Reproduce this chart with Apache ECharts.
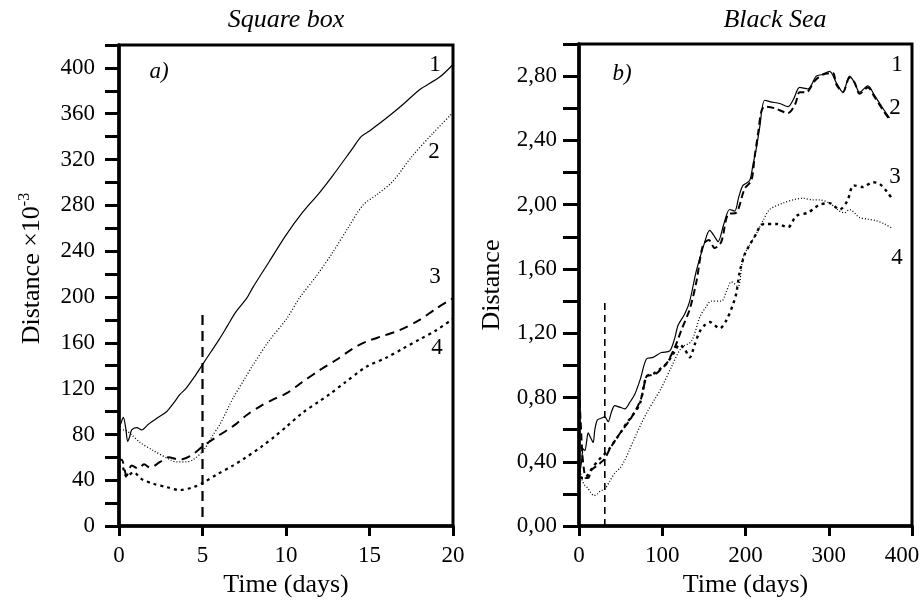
<!DOCTYPE html>
<html>
<head>
<meta charset="utf-8">
<script src="https://cdn.jsdelivr.net/npm/echarts@6/dist/echarts.min.js"></script>
<style>
  html, body { margin: 0; padding: 0; background: #fff; }
  #chart { width: 923px; height: 603px; }
</style>
</head>
<body>
<div id="chart"></div>
<script>
const serif = '"Liberation Serif", "DejaVu Serif", serif'

// a) Square box: [time (days), distance x 10^-3]
const box1 = [[0, 60], [0.02, 86], [0.12, 90], [0.26, 95], [0.4, 86], [0.52, 74], [0.64, 78], [0.76, 84], [1.06, 86], [1.36, 84],
  [1.76, 89], [2.36, 95], [2.86, 100], [3.3, 108], [3.65, 115], [4, 120], [4.5, 130], [5, 141], [5.5, 152], [6, 163],
  [6.5, 175], [7, 187], [7.65, 199], [8, 208], [9, 231], [10, 254], [11, 274], [12, 291], [12.8, 306], [14, 330],
  [14.5, 340], [15, 345], [16, 356], [17, 368], [18, 381], [19.2, 392], [20, 403]]
const box2 = [[0, 40], [0.02, 84], [0.3, 84], [0.8, 79], [1.26, 73], [2.05, 66], [3.05, 58], [3.45, 56], [4, 56], [4.45, 58],
  [5.05, 66], [5.65, 80], [6.05, 89], [6.84, 112], [7.5, 128], [8.04, 141], [9, 162], [10.04, 181], [10.8, 199], [11.8, 218],
  [12.8, 239], [13.7, 260], [14.6, 280], [15.5, 290], [16.4, 301], [17.5, 322], [18.8, 343], [20, 361]]
const box3 = [[0, 30], [0.02, 58], [0.16, 58], [0.46, 44], [0.76, 53], [1.16, 50], [1.5, 54], [1.86, 51], [2.46, 56], [2.95, 60],
  [3.65, 58], [4.25, 61], [5.05, 70], [5.75, 77], [6.5, 84], [7, 89], [7.65, 97], [8.5, 105], [9.3, 111], [10.04, 116],
  [11, 126], [12, 136], [13, 145], [14, 155], [14.8, 161], [15.8, 166], [16.8, 171], [18, 180], [19, 190], [20, 199]]
const box4 = [[0, 20], [0.02, 52], [0.16, 53], [0.46, 43], [0.86, 47], [1.36, 41], [2.05, 37], [2.86, 34], [3.65, 31.5], [4.45, 34],
  [5.05, 38], [5.85, 45], [6.84, 53], [7.5, 59], [8.5, 69], [9.3, 78], [10.04, 87], [11, 99], [12, 109], [12.6, 115],
  [13.5, 125], [14.8, 139], [16, 147], [17, 155], [18, 163], [19, 171], [20, 181]]
const boxMark = [[5, 8], [5, 186]]

// b) Black Sea: [time (days), distance]
const sea1 = [[0, 0.30], [3, 0.40], [5, 0.48], [7, 0.47], [9, 0.52], [11, 0.58], [14, 0.55], [17, 0.52], [19, 0.60], [22, 0.66],
  [26, 0.67], [31, 0.68], [35, 0.65], [39, 0.71], [43, 0.75], [49, 0.74], [55, 0.73], [61, 0.77], [67, 0.82], [74, 0.92],
  [81, 1.04], [89, 1.05], [99, 1.08], [109, 1.09], [115, 1.17], [119, 1.25], [127, 1.32], [133, 1.40], [141, 1.59], [150, 1.75],
  [157, 1.84], [163, 1.80], [167, 1.77], [174, 1.88], [181, 1.97], [187, 1.96], [192, 2.05], [197, 2.12], [205, 2.15], [209, 2.25],
  [213, 2.35], [217, 2.48], [223, 2.65], [230, 2.64], [241, 2.63], [251, 2.61], [258, 2.66], [265, 2.73], [275, 2.72], [285, 2.80],
  [292, 2.81], [301, 2.83], [309, 2.76], [317, 2.70], [325, 2.80], [331, 2.76], [337, 2.70], [347, 2.74], [355, 2.68], [365, 2.60],
  [373, 2.54]]
const sea2 = [[0, 0.85], [2, 0.65], [4, 0.45], [6, 0.35], [8, 0.30], [11, 0.30], [15, 0.35], [20, 0.37], [25, 0.39], [31, 0.42],
  [37, 0.48], [43, 0.53], [51, 0.59], [61, 0.66], [68, 0.72], [75, 0.80], [81, 0.93], [87, 0.94], [93, 0.95], [99, 0.98],
  [105, 1.01], [115, 1.11], [123, 1.22], [133, 1.35], [141, 1.52], [149, 1.75], [156, 1.78], [163, 1.73], [171, 1.77], [179, 1.94],
  [189, 1.95], [199, 2.10], [207, 2.15], [211, 2.30], [215, 2.44], [219, 2.58], [223, 2.61], [235, 2.60], [251, 2.57], [260, 2.63],
  [265, 2.70], [273, 2.70], [283, 2.77], [293, 2.81], [305, 2.82], [309, 2.75], [317, 2.70], [325, 2.79], [331, 2.76], [337, 2.69],
  [347, 2.73], [355, 2.67], [365, 2.59], [373, 2.53]]
const sea3 = [[0, 0.35], [3, 0.30], [7, 0.30], [12, 0.33], [17, 0.37], [22, 0.40], [27, 0.43], [35, 0.47], [43, 0.53], [51, 0.59],
  [57, 0.64], [63, 0.68], [73, 0.76], [81, 0.93], [90, 0.95], [98, 0.98], [105, 1.01], [113, 1.07], [121, 1.13], [127, 1.10],
  [133, 1.05], [139, 1.13], [145, 1.21], [151, 1.25], [157, 1.27], [163, 1.25], [169, 1.23], [177, 1.28], [185, 1.38], [189, 1.45],
  [193, 1.58], [199, 1.69], [205, 1.75], [213, 1.82], [218, 1.87], [223, 1.88], [237, 1.88], [251, 1.86], [261, 1.93], [275, 1.95],
  [283, 1.98], [289, 2.00], [301, 2.01], [313, 1.97], [322, 2.02], [330, 2.12], [341, 2.11], [353, 2.14], [361, 2.13], [370, 2.08],
  [377, 2.03]]
const sea4 = [[0, 0.0], [1.5, 0.35], [3, 0.30], [6, 0.26], [10, 0.24], [14, 0.21], [18, 0.19], [22, 0.20], [26, 0.22], [31, 0.23],
  [37, 0.28], [43, 0.33], [49, 0.36], [55, 0.41], [61, 0.48], [67, 0.55], [75, 0.64], [83, 0.72], [91, 0.79], [99, 0.86],
  [111, 0.99], [123, 1.11], [135, 1.15], [145, 1.30], [152, 1.36], [159, 1.40], [171, 1.40], [177, 1.46], [183, 1.52], [191, 1.49],
  [197, 1.67], [205, 1.75], [213, 1.82], [221, 1.90], [229, 1.97], [245, 2.01], [257, 2.03], [269, 2.04], [281, 2.03], [289, 2.03],
  [301, 2.01], [313, 1.96], [319, 1.95], [325, 1.97], [337, 1.92], [347, 1.91], [357, 1.90], [367, 1.88], [377, 1.85]]
const seaMark = [[31, 0], [31, 1.40]]

const titles = ['Square box', 'Black Sea']

const chart = echarts.init(document.getElementById('chart'))

const txt = (x, y, text, italic, size) => ({
  type: 'text', x, y,
  style: {
    text, fill: '#000', font: (italic ? 'italic ' : '') + (size || 23) + 'px ' + serif,
    align: 'center', verticalAlign: 'middle'
  }
})

const line = (name, data, grid, width, type, smooth) => ({
  name, type: 'line', data, xAxisIndex: grid, yAxisIndex: grid,
  showSymbol: false, smooth: smooth === undefined ? 0.3 : smooth, silent: true,
  lineStyle: { color: '#000', width, type }
})

const axisBase = {
  axisLine: { show: true, onZero: false, lineStyle: { color: '#000', width: 3.5 } },
  axisTick: { show: true, inside: false, lineStyle: { color: '#000', width: 3 } },
  splitLine: { show: false },
  axisLabel: { color: '#000', fontFamily: serif, fontSize: 23 },
  nameTextStyle: { color: '#000', fontFamily: serif, fontSize: 26 }
}

const option = {
  backgroundColor: '#fff',
  animation: false,
  grid: [
    { left: 119, right: 470, top: 45, bottom: 74, show: true, borderColor: '#000', borderWidth: 3 },
    { left: 579, right: 11, top: 44, bottom: 74, show: true, borderColor: '#000', borderWidth: 3 }
  ],
  xAxis: [
    Object.assign({}, axisBase, {
      type: 'value', gridIndex: 0, min: 0, max: 20, interval: 5,
      name: 'Time (days)', nameLocation: 'middle', nameGap: 44,
      axisTick: Object.assign({}, axisBase.axisTick, { length: 10 }),
      axisLabel: Object.assign({}, axisBase.axisLabel, { margin: 18 })
    }),
    Object.assign({}, axisBase, {
      type: 'value', gridIndex: 1, min: 0, max: 400, interval: 100,
      name: 'Time (days)', nameLocation: 'middle', nameGap: 44,
      axisTick: Object.assign({}, axisBase.axisTick, { length: 10 }),
      axisLabel: Object.assign({}, axisBase.axisLabel, {
        margin: 18,
        formatter: v => v === 400 ? '{r|400}' : String(v),
        rich: { r: { fontFamily: serif, fontSize: 23, color: '#000', padding: [0, 20, 0, 0] } }
      })
    })
  ],
  yAxis: [
    Object.assign({}, axisBase, {
      type: 'value', gridIndex: 0, min: 0, max: 420, interval: 20,
      name: 'Distance ×10{sup|-3}', nameLocation: 'middle', nameGap: 72,
      nameTextStyle: Object.assign({}, axisBase.nameTextStyle, {
        padding: [0, 0, 0, 34],
        rich: { sup: { fontFamily: serif, fontSize: 16, color: '#000', verticalAlign: 'top', padding: [0, 0, 14, 0] } }
      }),
      axisTick: Object.assign({}, axisBase.axisTick, { length: 14 }),
      axisLabel: Object.assign({}, axisBase.axisLabel, {
        margin: 24,
        formatter: v => (v % 40 === 0 && v <= 400) ? String(v) : ''
      })
    }),
    Object.assign({}, axisBase, {
      type: 'value', gridIndex: 1, min: 0, max: 3, interval: 0.2,
      name: 'Distance', nameLocation: 'middle', nameGap: 74,
      axisTick: Object.assign({}, axisBase.axisTick, { length: 16 }),
      axisLabel: Object.assign({}, axisBase.axisLabel, {
        margin: 22,
        formatter: v => (Math.round(v * 10) % 4 === 0 && v < 2.9) ? v.toFixed(2).replace('.', ',') : ''
      })
    })
  ],
  graphic: [
    txt(286, 20, titles[0], true, 26),
    txt(775, 20, titles[1], true, 26),
    txt(159, 72, 'a)', true, 23),
    txt(622, 74, 'b)', true, 23),
    txt(435, 65, '1'), txt(434, 152, '2'), txt(435, 277, '3'), txt(437, 348, '4'),
    txt(897, 65, '1'), txt(895, 108, '2'), txt(895, 177, '3'), txt(897, 258, '4')
  ],
  series: [
    line('1', box1, 0, 1.2, 'solid'),
    line('2', box2, 0, 1.3, [1, 2]),
    line('3', box3, 0, 2, [9, 6]),
    line('4', box4, 0, 2.2, [3, 4]),
    line('t', boxMark, 0, 2.2, [10, 6], false),
    line('1', sea1, 1, 1.2, 'solid'),
    line('2', sea2, 1, 2, [7, 4]),
    line('3', sea3, 1, 2.4, [3, 4]),
    line('4', sea4, 1, 1.3, [1, 2]),
    line('t', seaMark, 1, 1.6, [7, 5], false)
  ]
}

chart.setOption(option)
</script>
</body>
</html>
